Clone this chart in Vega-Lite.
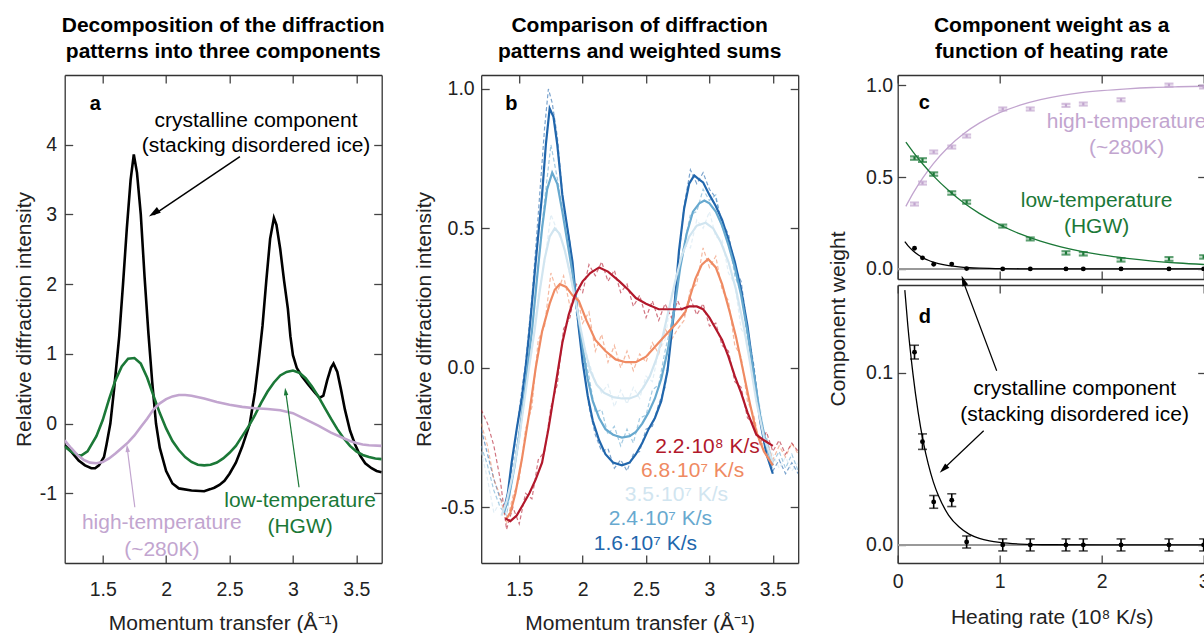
{
 "$schema": "https://vega.github.io/schema/vega-lite/v6.json",
 "padding": {"left": 12.7, "top": 15, "right": 0, "bottom": 0},
 "background": "white",
 "bounds": "flush",
 "spacing": 99.5,
 "resolve": {"scale": {"color": "independent"}},
 "config": {
  "font": "Liberation Sans",
  "view": {"stroke": null},
  "title": {"font": "Liberation Sans", "fontSize": 21, "fontWeight": "bold", "lineHeight": 26, "offset": 12, "color": "#000", "anchor": "middle", "frame": "group"},
  "axis": {"domainColor": "#333", "domainWidth": 1.3, "tickColor": "#444", "tickWidth": 1.3, "tickSize": -8, "labelFlush": false, "labelOverlap": false, "labelFont": "Liberation Sans", "labelFontSize": 19.5, "labelColor": "#222", "titleFont": "Liberation Sans", "titleFontSize": 21, "titleFontWeight": "normal", "titleColor": "#222", "grid": false},
  "text": {"font": "Liberation Sans"}
 },
 "datasets": {
  "panelA": [
   {"comp":"crystalline","q":1.20,"I":-0.31},{"comp":"crystalline","q":1.25,"I":-0.40},{"comp":"crystalline","q":1.31,"I":-0.53},{"comp":"crystalline","q":1.36,"I":-0.60},{"comp":"crystalline","q":1.41,"I":-0.64},{"comp":"crystalline","q":1.44,"I":-0.64},{"comp":"crystalline","q":1.47,"I":-0.60},{"comp":"crystalline","q":1.51,"I":-0.48},{"comp":"crystalline","q":1.53,"I":-0.30},{"comp":"crystalline","q":1.56,"I":0.00},{"comp":"crystalline","q":1.59,"I":0.50},{"comp":"crystalline","q":1.63,"I":1.25},{"comp":"crystalline","q":1.66,"I":2.00},{"comp":"crystalline","q":1.69,"I":2.80},{"comp":"crystalline","q":1.72,"I":3.50},{"comp":"crystalline","q":1.745,"I":3.86},{"comp":"crystalline","q":1.77,"I":3.60},{"comp":"crystalline","q":1.80,"I":3.00},{"comp":"crystalline","q":1.83,"I":2.10},{"comp":"crystalline","q":1.86,"I":1.30},{"comp":"crystalline","q":1.89,"I":0.60},{"comp":"crystalline","q":1.92,"I":0.00},{"comp":"crystalline","q":1.95,"I":-0.35},{"comp":"crystalline","q":2.00,"I":-0.68},{"comp":"crystalline","q":2.05,"I":-0.86},{"comp":"crystalline","q":2.10,"I":-0.93},{"comp":"crystalline","q":2.20,"I":-0.96},{"comp":"crystalline","q":2.30,"I":-0.97},{"comp":"crystalline","q":2.35,"I":-0.94},{"comp":"crystalline","q":2.38,"I":-0.92},{"comp":"crystalline","q":2.42,"I":-0.88},{"comp":"crystalline","q":2.46,"I":-0.82},{"comp":"crystalline","q":2.50,"I":-0.72},{"comp":"crystalline","q":2.55,"I":-0.56},{"comp":"crystalline","q":2.60,"I":-0.33},{"comp":"crystalline","q":2.66,"I":0.00},{"comp":"crystalline","q":2.70,"I":0.45},{"comp":"crystalline","q":2.73,"I":0.90},{"comp":"crystalline","q":2.76,"I":1.40},{"comp":"crystalline","q":2.79,"I":2.05},{"comp":"crystalline","q":2.82,"I":2.65},{"comp":"crystalline","q":2.85,"I":2.95},{"comp":"crystalline","q":2.87,"I":2.85},{"comp":"crystalline","q":2.90,"I":2.50},{"comp":"crystalline","q":2.93,"I":2.05},{"comp":"crystalline","q":2.96,"I":1.65},{"comp":"crystalline","q":2.98,"I":1.25},{"comp":"crystalline","q":3.00,"I":0.98},{"comp":"crystalline","q":3.03,"I":0.80},{"comp":"crystalline","q":3.07,"I":0.68},{"comp":"crystalline","q":3.12,"I":0.56},{"comp":"crystalline","q":3.17,"I":0.45},{"comp":"crystalline","q":3.21,"I":0.37},{"comp":"crystalline","q":3.24,"I":0.40},{"comp":"crystalline","q":3.27,"I":0.62},{"comp":"crystalline","q":3.30,"I":0.80},{"comp":"crystalline","q":3.32,"I":0.86},{"comp":"crystalline","q":3.35,"I":0.74},{"comp":"crystalline","q":3.38,"I":0.48},{"comp":"crystalline","q":3.41,"I":0.20},{"comp":"crystalline","q":3.45,"I":-0.10},{"comp":"crystalline","q":3.49,"I":-0.30},{"comp":"crystalline","q":3.53,"I":-0.46},{"comp":"crystalline","q":3.57,"I":-0.57},{"comp":"crystalline","q":3.62,"I":-0.64},{"comp":"crystalline","q":3.66,"I":-0.68},{"comp":"crystalline","q":3.70,"I":-0.70},
   {"comp":"low","q":1.20,"I":-0.33},{"comp":"low","q":1.25,"I":-0.40},{"comp":"low","q":1.30,"I":-0.45},{"comp":"low","q":1.33,"I":-0.46},{"comp":"low","q":1.38,"I":-0.40},{"comp":"low","q":1.45,"I":-0.18},{"comp":"low","q":1.50,"I":0.05},{"comp":"low","q":1.55,"I":0.35},{"comp":"low","q":1.60,"I":0.62},{"comp":"low","q":1.65,"I":0.82},{"comp":"low","q":1.70,"I":0.93},{"comp":"low","q":1.75,"I":0.94},{"comp":"low","q":1.80,"I":0.86},{"comp":"low","q":1.85,"I":0.66},{"comp":"low","q":1.90,"I":0.40},{"comp":"low","q":1.95,"I":0.15},{"comp":"low","q":2.00,"I":-0.07},{"comp":"low","q":2.05,"I":-0.25},{"comp":"low","q":2.10,"I":-0.38},{"comp":"low","q":2.15,"I":-0.48},{"comp":"low","q":2.20,"I":-0.55},{"comp":"low","q":2.25,"I":-0.59},{"comp":"low","q":2.30,"I":-0.60},{"comp":"low","q":2.35,"I":-0.59},{"comp":"low","q":2.40,"I":-0.56},{"comp":"low","q":2.45,"I":-0.50},{"comp":"low","q":2.50,"I":-0.42},{"comp":"low","q":2.55,"I":-0.32},{"comp":"low","q":2.60,"I":-0.18},{"comp":"low","q":2.65,"I":-0.04},{"comp":"low","q":2.70,"I":0.12},{"comp":"low","q":2.75,"I":0.30},{"comp":"low","q":2.80,"I":0.46},{"comp":"low","q":2.85,"I":0.59},{"comp":"low","q":2.90,"I":0.69},{"comp":"low","q":2.95,"I":0.74},{"comp":"low","q":3.00,"I":0.76},{"comp":"low","q":3.05,"I":0.73},{"comp":"low","q":3.10,"I":0.65},{"comp":"low","q":3.15,"I":0.53},{"comp":"low","q":3.20,"I":0.39},{"comp":"low","q":3.25,"I":0.23},{"comp":"low","q":3.30,"I":0.07},{"comp":"low","q":3.35,"I":-0.08},{"comp":"low","q":3.40,"I":-0.21},{"comp":"low","q":3.45,"I":-0.32},{"comp":"low","q":3.50,"I":-0.40},{"comp":"low","q":3.55,"I":-0.45},{"comp":"low","q":3.60,"I":-0.48},{"comp":"low","q":3.65,"I":-0.50},{"comp":"low","q":3.70,"I":-0.51},
   {"comp":"high","q":1.20,"I":-0.24},{"comp":"high","q":1.25,"I":-0.35},{"comp":"high","q":1.30,"I":-0.45},{"comp":"high","q":1.35,"I":-0.52},{"comp":"high","q":1.40,"I":-0.56},{"comp":"high","q":1.45,"I":-0.57},{"comp":"high","q":1.50,"I":-0.55},{"comp":"high","q":1.55,"I":-0.50},{"comp":"high","q":1.60,"I":-0.43},{"comp":"high","q":1.65,"I":-0.35},{"comp":"high","q":1.70,"I":-0.27},{"comp":"high","q":1.75,"I":-0.17},{"comp":"high","q":1.80,"I":-0.05},{"comp":"high","q":1.85,"I":0.07},{"comp":"high","q":1.90,"I":0.20},{"comp":"high","q":1.95,"I":0.29},{"comp":"high","q":2.00,"I":0.35},{"comp":"high","q":2.05,"I":0.39},{"comp":"high","q":2.10,"I":0.41},{"comp":"high","q":2.15,"I":0.41},{"comp":"high","q":2.20,"I":0.40},{"comp":"high","q":2.30,"I":0.36},{"comp":"high","q":2.40,"I":0.31},{"comp":"high","q":2.50,"I":0.27},{"comp":"high","q":2.60,"I":0.24},{"comp":"high","q":2.70,"I":0.22},{"comp":"high","q":2.80,"I":0.21},{"comp":"high","q":2.90,"I":0.19},{"comp":"high","q":3.00,"I":0.15},{"comp":"high","q":3.10,"I":0.06},{"comp":"high","q":3.20,"I":-0.03},{"comp":"high","q":3.30,"I":-0.13},{"comp":"high","q":3.40,"I":-0.21},{"comp":"high","q":3.45,"I":-0.25},{"comp":"high","q":3.50,"I":-0.28},{"comp":"high","q":3.55,"I":-0.30},{"comp":"high","q":3.60,"I":-0.31},{"comp":"high","q":3.70,"I":-0.32}
  ],
  "panelBsolid": [
   {"rate":"1.6e7","q":1.38,"I":-0.51},{"rate":"1.6e7","q":1.41,"I":-0.45},{"rate":"1.6e7","q":1.44,"I":-0.34},{"rate":"1.6e7","q":1.48,"I":-0.22},{"rate":"1.6e7","q":1.52,"I":-0.11},{"rate":"1.6e7","q":1.55,"I":0.00},{"rate":"1.6e7","q":1.58,"I":0.13},{"rate":"1.6e7","q":1.63,"I":0.38},{"rate":"1.6e7","q":1.68,"I":0.62},{"rate":"1.6e7","q":1.71,"I":0.80},{"rate":"1.6e7","q":1.74,"I":0.93},{"rate":"1.6e7","q":1.77,"I":0.90},{"rate":"1.6e7","q":1.80,"I":0.80},{"rate":"1.6e7","q":1.84,"I":0.62},{"rate":"1.6e7","q":1.88,"I":0.50},{"rate":"1.6e7","q":1.92,"I":0.38},{"rate":"1.6e7","q":1.97,"I":0.14},{"rate":"1.6e7","q":2.00,"I":0.02},{"rate":"1.6e7","q":2.04,"I":-0.10},{"rate":"1.6e7","q":2.08,"I":-0.19},{"rate":"1.6e7","q":2.13,"I":-0.26},{"rate":"1.6e7","q":2.18,"I":-0.31},{"rate":"1.6e7","q":2.24,"I":-0.34},{"rate":"1.6e7","q":2.31,"I":-0.35},{"rate":"1.6e7","q":2.37,"I":-0.34},{"rate":"1.6e7","q":2.42,"I":-0.31},{"rate":"1.6e7","q":2.47,"I":-0.27},{"rate":"1.6e7","q":2.52,"I":-0.22},{"rate":"1.6e7","q":2.57,"I":-0.18},{"rate":"1.6e7","q":2.62,"I":-0.12},{"rate":"1.6e7","q":2.67,"I":-0.01},{"rate":"1.6e7","q":2.72,"I":0.20},{"rate":"1.6e7","q":2.76,"I":0.42},{"rate":"1.6e7","q":2.80,"I":0.57},{"rate":"1.6e7","q":2.84,"I":0.66},{"rate":"1.6e7","q":2.88,"I":0.69},{"rate":"1.6e7","q":2.92,"I":0.675},{"rate":"1.6e7","q":2.95,"I":0.665},{"rate":"1.6e7","q":3.00,"I":0.62},{"rate":"1.6e7","q":3.05,"I":0.58},{"rate":"1.6e7","q":3.10,"I":0.53},{"rate":"1.6e7","q":3.15,"I":0.46},{"rate":"1.6e7","q":3.20,"I":0.38},{"rate":"1.6e7","q":3.25,"I":0.28},{"rate":"1.6e7","q":3.30,"I":0.15},{"rate":"1.6e7","q":3.35,"I":-0.02},{"rate":"1.6e7","q":3.40,"I":-0.19},{"rate":"1.6e7","q":3.45,"I":-0.31},{"rate":"1.6e7","q":3.50,"I":-0.38},
   {"rate":"2.4e7","q":1.38,"I":-0.52},{"rate":"2.4e7","q":1.42,"I":-0.46},{"rate":"2.4e7","q":1.46,"I":-0.36},{"rate":"2.4e7","q":1.50,"I":-0.24},{"rate":"2.4e7","q":1.54,"I":-0.10},{"rate":"2.4e7","q":1.57,"I":0.02},{"rate":"2.4e7","q":1.60,"I":0.13},{"rate":"2.4e7","q":1.64,"I":0.32},{"rate":"2.4e7","q":1.68,"I":0.50},{"rate":"2.4e7","q":1.72,"I":0.64},{"rate":"2.4e7","q":1.76,"I":0.70},{"rate":"2.4e7","q":1.80,"I":0.66},{"rate":"2.4e7","q":1.84,"I":0.56},{"rate":"2.4e7","q":1.88,"I":0.45},{"rate":"2.4e7","q":1.92,"I":0.34},{"rate":"2.4e7","q":1.96,"I":0.20},{"rate":"2.4e7","q":2.00,"I":0.07},{"rate":"2.4e7","q":2.04,"I":-0.04},{"rate":"2.4e7","q":2.08,"I":-0.12},{"rate":"2.4e7","q":2.13,"I":-0.18},{"rate":"2.4e7","q":2.18,"I":-0.22},{"rate":"2.4e7","q":2.24,"I":-0.24},{"rate":"2.4e7","q":2.31,"I":-0.25},{"rate":"2.4e7","q":2.37,"I":-0.245},{"rate":"2.4e7","q":2.42,"I":-0.23},{"rate":"2.4e7","q":2.47,"I":-0.20},{"rate":"2.4e7","q":2.52,"I":-0.16},{"rate":"2.4e7","q":2.57,"I":-0.11},{"rate":"2.4e7","q":2.62,"I":-0.04},{"rate":"2.4e7","q":2.67,"I":0.06},{"rate":"2.4e7","q":2.72,"I":0.20},{"rate":"2.4e7","q":2.77,"I":0.36},{"rate":"2.4e7","q":2.82,"I":0.48},{"rate":"2.4e7","q":2.87,"I":0.56},{"rate":"2.4e7","q":2.92,"I":0.59},{"rate":"2.4e7","q":2.96,"I":0.60},{"rate":"2.4e7","q":3.00,"I":0.59},{"rate":"2.4e7","q":3.05,"I":0.56},{"rate":"2.4e7","q":3.10,"I":0.51},{"rate":"2.4e7","q":3.15,"I":0.44},{"rate":"2.4e7","q":3.20,"I":0.36},{"rate":"2.4e7","q":3.25,"I":0.26},{"rate":"2.4e7","q":3.30,"I":0.13},{"rate":"2.4e7","q":3.35,"I":-0.02},{"rate":"2.4e7","q":3.40,"I":-0.17},{"rate":"2.4e7","q":3.45,"I":-0.28},{"rate":"2.4e7","q":3.50,"I":-0.35},
   {"rate":"3.5e7","q":1.36,"I":-0.53},{"rate":"3.5e7","q":1.40,"I":-0.48},{"rate":"3.5e7","q":1.45,"I":-0.38},{"rate":"3.5e7","q":1.50,"I":-0.25},{"rate":"3.5e7","q":1.54,"I":-0.12},{"rate":"3.5e7","q":1.58,"I":0.01},{"rate":"3.5e7","q":1.62,"I":0.13},{"rate":"3.5e7","q":1.66,"I":0.27},{"rate":"3.5e7","q":1.70,"I":0.39},{"rate":"3.5e7","q":1.74,"I":0.47},{"rate":"3.5e7","q":1.78,"I":0.50},{"rate":"3.5e7","q":1.82,"I":0.48},{"rate":"3.5e7","q":1.86,"I":0.42},{"rate":"3.5e7","q":1.90,"I":0.34},{"rate":"3.5e7","q":1.94,"I":0.25},{"rate":"3.5e7","q":1.98,"I":0.15},{"rate":"3.5e7","q":2.02,"I":0.06},{"rate":"3.5e7","q":2.06,"I":-0.01},{"rate":"3.5e7","q":2.11,"I":-0.06},{"rate":"3.5e7","q":2.17,"I":-0.09},{"rate":"3.5e7","q":2.24,"I":-0.105},{"rate":"3.5e7","q":2.31,"I":-0.11},{"rate":"3.5e7","q":2.37,"I":-0.11},{"rate":"3.5e7","q":2.43,"I":-0.10},{"rate":"3.5e7","q":2.48,"I":-0.07},{"rate":"3.5e7","q":2.53,"I":-0.03},{"rate":"3.5e7","q":2.58,"I":0.03},{"rate":"3.5e7","q":2.63,"I":0.11},{"rate":"3.5e7","q":2.68,"I":0.21},{"rate":"3.5e7","q":2.73,"I":0.31},{"rate":"3.5e7","q":2.78,"I":0.40},{"rate":"3.5e7","q":2.84,"I":0.47},{"rate":"3.5e7","q":2.90,"I":0.51},{"rate":"3.5e7","q":2.97,"I":0.52},{"rate":"3.5e7","q":3.03,"I":0.50},{"rate":"3.5e7","q":3.09,"I":0.45},{"rate":"3.5e7","q":3.15,"I":0.38},{"rate":"3.5e7","q":3.21,"I":0.28},{"rate":"3.5e7","q":3.27,"I":0.15},{"rate":"3.5e7","q":3.32,"I":0.02},{"rate":"3.5e7","q":3.37,"I":-0.12},{"rate":"3.5e7","q":3.43,"I":-0.25},{"rate":"3.5e7","q":3.50,"I":-0.34},
   {"rate":"6.8e7","q":1.40,"I":-0.54},{"rate":"6.8e7","q":1.43,"I":-0.52},{"rate":"6.8e7","q":1.47,"I":-0.45},{"rate":"6.8e7","q":1.52,"I":-0.33},{"rate":"6.8e7","q":1.58,"I":-0.16},{"rate":"6.8e7","q":1.63,"I":0.00},{"rate":"6.8e7","q":1.68,"I":0.13},{"rate":"6.8e7","q":1.74,"I":0.23},{"rate":"6.8e7","q":1.78,"I":0.28},{"rate":"6.8e7","q":1.82,"I":0.30},{"rate":"6.8e7","q":1.87,"I":0.29},{"rate":"6.8e7","q":1.92,"I":0.26},{"rate":"6.8e7","q":1.97,"I":0.24},{"rate":"6.8e7","q":2.03,"I":0.17},{"rate":"6.8e7","q":2.10,"I":0.10},{"rate":"6.8e7","q":2.18,"I":0.06},{"rate":"6.8e7","q":2.26,"I":0.03},{"rate":"6.8e7","q":2.34,"I":0.02},{"rate":"6.8e7","q":2.42,"I":0.02},{"rate":"6.8e7","q":2.50,"I":0.04},{"rate":"6.8e7","q":2.58,"I":0.08},{"rate":"6.8e7","q":2.66,"I":0.12},{"rate":"6.8e7","q":2.74,"I":0.16},{"rate":"6.8e7","q":2.81,"I":0.20},{"rate":"6.8e7","q":2.85,"I":0.26},{"rate":"6.8e7","q":2.89,"I":0.32},{"rate":"6.8e7","q":2.94,"I":0.37},{"rate":"6.8e7","q":2.99,"I":0.39},{"rate":"6.8e7","q":3.05,"I":0.36},{"rate":"6.8e7","q":3.10,"I":0.30},{"rate":"6.8e7","q":3.16,"I":0.20},{"rate":"6.8e7","q":3.21,"I":0.11},{"rate":"6.8e7","q":3.27,"I":-0.02},{"rate":"6.8e7","q":3.32,"I":-0.13},{"rate":"6.8e7","q":3.37,"I":-0.23},{"rate":"6.8e7","q":3.43,"I":-0.30},{"rate":"6.8e7","q":3.50,"I":-0.35},
   {"rate":"2.2e8","q":1.39,"I":-0.54},{"rate":"2.2e8","q":1.43,"I":-0.55},{"rate":"2.2e8","q":1.48,"I":-0.53},{"rate":"2.2e8","q":1.53,"I":-0.49},{"rate":"2.2e8","q":1.58,"I":-0.45},{"rate":"2.2e8","q":1.63,"I":-0.40},{"rate":"2.2e8","q":1.68,"I":-0.34},{"rate":"2.2e8","q":1.73,"I":-0.22},{"rate":"2.2e8","q":1.78,"I":-0.08},{"rate":"2.2e8","q":1.84,"I":0.09},{"rate":"2.2e8","q":1.89,"I":0.19},{"rate":"2.2e8","q":1.94,"I":0.26},{"rate":"2.2e8","q":2.00,"I":0.31},{"rate":"2.2e8","q":2.06,"I":0.34},{"rate":"2.2e8","q":2.13,"I":0.36},{"rate":"2.2e8","q":2.20,"I":0.345},{"rate":"2.2e8","q":2.29,"I":0.31},{"rate":"2.2e8","q":2.36,"I":0.28},{"rate":"2.2e8","q":2.42,"I":0.25},{"rate":"2.2e8","q":2.50,"I":0.23},{"rate":"2.2e8","q":2.60,"I":0.21},{"rate":"2.2e8","q":2.70,"I":0.21},{"rate":"2.2e8","q":2.78,"I":0.21},{"rate":"2.2e8","q":2.84,"I":0.22},{"rate":"2.2e8","q":2.90,"I":0.22},{"rate":"2.2e8","q":2.95,"I":0.21},{"rate":"2.2e8","q":3.00,"I":0.18},{"rate":"2.2e8","q":3.05,"I":0.14},{"rate":"2.2e8","q":3.10,"I":0.10},{"rate":"2.2e8","q":3.15,"I":0.04},{"rate":"2.2e8","q":3.20,"I":-0.03},{"rate":"2.2e8","q":3.25,"I":-0.09},{"rate":"2.2e8","q":3.30,"I":-0.16},{"rate":"2.2e8","q":3.37,"I":-0.24},{"rate":"2.2e8","q":3.43,"I":-0.26},{"rate":"2.2e8","q":3.50,"I":-0.28}
  ],
  "panelBdashed": [
   {"rate":"1.6e7","q":1.20,"I":-0.22},{"rate":"1.6e7","q":1.25,"I":-0.31},{"rate":"1.6e7","q":1.30,"I":-0.40},{"rate":"1.6e7","q":1.35,"I":-0.47},{"rate":"1.6e7","q":1.40,"I":-0.50},{"rate":"1.6e7","q":1.45,"I":-0.33},{"rate":"1.6e7","q":1.50,"I":-0.15},{"rate":"1.6e7","q":1.55,"I":0.02},{"rate":"1.6e7","q":1.60,"I":0.25},{"rate":"1.6e7","q":1.65,"I":0.55},{"rate":"1.6e7","q":1.70,"I":0.86},{"rate":"1.6e7","q":1.73,"I":1.00},{"rate":"1.6e7","q":1.76,"I":0.95},{"rate":"1.6e7","q":1.80,"I":0.83},{"rate":"1.6e7","q":1.85,"I":0.58},{"rate":"1.6e7","q":1.90,"I":0.45},{"rate":"1.6e7","q":1.95,"I":0.20},{"rate":"1.6e7","q":2.00,"I":0.04},{"rate":"1.6e7","q":2.05,"I":-0.14},{"rate":"1.6e7","q":2.10,"I":-0.24},{"rate":"1.6e7","q":2.15,"I":-0.30},{"rate":"1.6e7","q":2.20,"I":-0.29},{"rate":"1.6e7","q":2.25,"I":-0.36},{"rate":"1.6e7","q":2.30,"I":-0.33},{"rate":"1.6e7","q":2.35,"I":-0.37},{"rate":"1.6e7","q":2.40,"I":-0.31},{"rate":"1.6e7","q":2.45,"I":-0.30},{"rate":"1.6e7","q":2.50,"I":-0.22},{"rate":"1.6e7","q":2.55,"I":-0.21},{"rate":"1.6e7","q":2.60,"I":-0.13},{"rate":"1.6e7","q":2.65,"I":-0.07},{"rate":"1.6e7","q":2.70,"I":0.12},{"rate":"1.6e7","q":2.75,"I":0.36},{"rate":"1.6e7","q":2.80,"I":0.58},{"rate":"1.6e7","q":2.85,"I":0.71},{"rate":"1.6e7","q":2.90,"I":0.66},{"rate":"1.6e7","q":2.95,"I":0.70},{"rate":"1.6e7","q":3.00,"I":0.64},{"rate":"1.6e7","q":3.05,"I":0.61},{"rate":"1.6e7","q":3.10,"I":0.52},{"rate":"1.6e7","q":3.15,"I":0.48},{"rate":"1.6e7","q":3.20,"I":0.36},{"rate":"1.6e7","q":3.25,"I":0.31},{"rate":"1.6e7","q":3.30,"I":0.14},{"rate":"1.6e7","q":3.35,"I":0.01},{"rate":"1.6e7","q":3.40,"I":-0.18},{"rate":"1.6e7","q":3.45,"I":-0.28},{"rate":"1.6e7","q":3.50,"I":-0.37},{"rate":"1.6e7","q":3.55,"I":-0.33},{"rate":"1.6e7","q":3.60,"I":-0.38},{"rate":"1.6e7","q":3.65,"I":-0.34},{"rate":"1.6e7","q":3.70,"I":-0.38},
   {"rate":"2.4e7","q":1.20,"I":-0.28},{"rate":"2.4e7","q":1.25,"I":-0.35},{"rate":"2.4e7","q":1.30,"I":-0.44},{"rate":"2.4e7","q":1.35,"I":-0.50},{"rate":"2.4e7","q":1.40,"I":-0.53},{"rate":"2.4e7","q":1.45,"I":-0.38},{"rate":"2.4e7","q":1.50,"I":-0.22},{"rate":"2.4e7","q":1.55,"I":-0.06},{"rate":"2.4e7","q":1.60,"I":0.14},{"rate":"2.4e7","q":1.65,"I":0.37},{"rate":"2.4e7","q":1.70,"I":0.60},{"rate":"2.4e7","q":1.75,"I":0.80},{"rate":"2.4e7","q":1.80,"I":0.68},{"rate":"2.4e7","q":1.85,"I":0.55},{"rate":"2.4e7","q":1.90,"I":0.40},{"rate":"2.4e7","q":1.95,"I":0.23},{"rate":"2.4e7","q":2.00,"I":0.08},{"rate":"2.4e7","q":2.05,"I":-0.03},{"rate":"2.4e7","q":2.10,"I":-0.16},{"rate":"2.4e7","q":2.15,"I":-0.15},{"rate":"2.4e7","q":2.20,"I":-0.24},{"rate":"2.4e7","q":2.25,"I":-0.21},{"rate":"2.4e7","q":2.30,"I":-0.28},{"rate":"2.4e7","q":2.35,"I":-0.22},{"rate":"2.4e7","q":2.40,"I":-0.27},{"rate":"2.4e7","q":2.45,"I":-0.18},{"rate":"2.4e7","q":2.50,"I":-0.17},{"rate":"2.4e7","q":2.55,"I":-0.08},{"rate":"2.4e7","q":2.60,"I":-0.06},{"rate":"2.4e7","q":2.65,"I":0.06},{"rate":"2.4e7","q":2.70,"I":0.16},{"rate":"2.4e7","q":2.75,"I":0.33},{"rate":"2.4e7","q":2.80,"I":0.44},{"rate":"2.4e7","q":2.85,"I":0.55},{"rate":"2.4e7","q":2.90,"I":0.56},{"rate":"2.4e7","q":2.95,"I":0.64},{"rate":"2.4e7","q":3.00,"I":0.60},{"rate":"2.4e7","q":3.05,"I":0.62},{"rate":"2.4e7","q":3.10,"I":0.50},{"rate":"2.4e7","q":3.15,"I":0.47},{"rate":"2.4e7","q":3.20,"I":0.33},{"rate":"2.4e7","q":3.25,"I":0.27},{"rate":"2.4e7","q":3.30,"I":0.10},{"rate":"2.4e7","q":3.35,"I":0.00},{"rate":"2.4e7","q":3.40,"I":-0.19},{"rate":"2.4e7","q":3.45,"I":-0.25},{"rate":"2.4e7","q":3.50,"I":-0.34},{"rate":"2.4e7","q":3.55,"I":-0.30},{"rate":"2.4e7","q":3.60,"I":-0.36},{"rate":"2.4e7","q":3.65,"I":-0.31},{"rate":"2.4e7","q":3.70,"I":-0.37},
   {"rate":"3.5e7","q":1.20,"I":-0.30},{"rate":"3.5e7","q":1.25,"I":-0.40},{"rate":"3.5e7","q":1.30,"I":-0.52},{"rate":"3.5e7","q":1.35,"I":-0.48},{"rate":"3.5e7","q":1.40,"I":-0.53},{"rate":"3.5e7","q":1.45,"I":-0.40},{"rate":"3.5e7","q":1.50,"I":-0.27},{"rate":"3.5e7","q":1.55,"I":-0.07},{"rate":"3.5e7","q":1.60,"I":0.06},{"rate":"3.5e7","q":1.65,"I":0.26},{"rate":"3.5e7","q":1.70,"I":0.38},{"rate":"3.5e7","q":1.75,"I":0.55},{"rate":"3.5e7","q":1.80,"I":0.49},{"rate":"3.5e7","q":1.85,"I":0.44},{"rate":"3.5e7","q":1.90,"I":0.33},{"rate":"3.5e7","q":1.95,"I":0.22},{"rate":"3.5e7","q":2.00,"I":0.10},{"rate":"3.5e7","q":2.05,"I":0.02},{"rate":"3.5e7","q":2.10,"I":-0.05},{"rate":"3.5e7","q":2.15,"I":-0.09},{"rate":"3.5e7","q":2.20,"I":-0.06},{"rate":"3.5e7","q":2.25,"I":-0.14},{"rate":"3.5e7","q":2.30,"I":-0.08},{"rate":"3.5e7","q":2.35,"I":-0.13},{"rate":"3.5e7","q":2.40,"I":-0.07},{"rate":"3.5e7","q":2.45,"I":-0.11},{"rate":"3.5e7","q":2.50,"I":-0.03},{"rate":"3.5e7","q":2.55,"I":-0.05},{"rate":"3.5e7","q":2.60,"I":0.06},{"rate":"3.5e7","q":2.65,"I":0.10},{"rate":"3.5e7","q":2.70,"I":0.26},{"rate":"3.5e7","q":2.75,"I":0.33},{"rate":"3.5e7","q":2.80,"I":0.44},{"rate":"3.5e7","q":2.85,"I":0.43},{"rate":"3.5e7","q":2.90,"I":0.53},{"rate":"3.5e7","q":2.95,"I":0.50},{"rate":"3.5e7","q":3.00,"I":0.56},{"rate":"3.5e7","q":3.05,"I":0.47},{"rate":"3.5e7","q":3.10,"I":0.46},{"rate":"3.5e7","q":3.15,"I":0.34},{"rate":"3.5e7","q":3.20,"I":0.30},{"rate":"3.5e7","q":3.25,"I":0.14},{"rate":"3.5e7","q":3.30,"I":0.10},{"rate":"3.5e7","q":3.35,"I":-0.06},{"rate":"3.5e7","q":3.40,"I":-0.14},{"rate":"3.5e7","q":3.45,"I":-0.28},{"rate":"3.5e7","q":3.50,"I":-0.31},{"rate":"3.5e7","q":3.55,"I":-0.36},{"rate":"3.5e7","q":3.60,"I":-0.32},{"rate":"3.5e7","q":3.65,"I":-0.37},{"rate":"3.5e7","q":3.70,"I":-0.34},
   {"rate":"6.8e7","q":1.20,"I":-0.20},{"rate":"6.8e7","q":1.25,"I":-0.28},{"rate":"6.8e7","q":1.30,"I":-0.40},{"rate":"6.8e7","q":1.35,"I":-0.46},{"rate":"6.8e7","q":1.40,"I":-0.56},{"rate":"6.8e7","q":1.45,"I":-0.46},{"rate":"6.8e7","q":1.50,"I":-0.40},{"rate":"6.8e7","q":1.55,"I":-0.22},{"rate":"6.8e7","q":1.60,"I":-0.14},{"rate":"6.8e7","q":1.65,"I":0.10},{"rate":"6.8e7","q":1.70,"I":0.15},{"rate":"6.8e7","q":1.75,"I":0.34},{"rate":"6.8e7","q":1.80,"I":0.27},{"rate":"6.8e7","q":1.85,"I":0.33},{"rate":"6.8e7","q":1.90,"I":0.22},{"rate":"6.8e7","q":1.95,"I":0.28},{"rate":"6.8e7","q":2.00,"I":0.16},{"rate":"6.8e7","q":2.05,"I":0.20},{"rate":"6.8e7","q":2.10,"I":0.06},{"rate":"6.8e7","q":2.15,"I":0.12},{"rate":"6.8e7","q":2.20,"I":0.02},{"rate":"6.8e7","q":2.25,"I":0.08},{"rate":"6.8e7","q":2.30,"I":0.00},{"rate":"6.8e7","q":2.35,"I":0.06},{"rate":"6.8e7","q":2.40,"I":-0.01},{"rate":"6.8e7","q":2.45,"I":0.05},{"rate":"6.8e7","q":2.50,"I":0.02},{"rate":"6.8e7","q":2.55,"I":0.09},{"rate":"6.8e7","q":2.60,"I":0.05},{"rate":"6.8e7","q":2.65,"I":0.14},{"rate":"6.8e7","q":2.70,"I":0.10},{"rate":"6.8e7","q":2.75,"I":0.14},{"rate":"6.8e7","q":2.80,"I":0.17},{"rate":"6.8e7","q":2.85,"I":0.28},{"rate":"6.8e7","q":2.90,"I":0.30},{"rate":"6.8e7","q":2.95,"I":0.43},{"rate":"6.8e7","q":3.00,"I":0.36},{"rate":"6.8e7","q":3.05,"I":0.40},{"rate":"6.8e7","q":3.10,"I":0.28},{"rate":"6.8e7","q":3.15,"I":0.24},{"rate":"6.8e7","q":3.20,"I":0.08},{"rate":"6.8e7","q":3.25,"I":0.04},{"rate":"6.8e7","q":3.30,"I":-0.12},{"rate":"6.8e7","q":3.35,"I":-0.17},{"rate":"6.8e7","q":3.40,"I":-0.28},{"rate":"6.8e7","q":3.45,"I":-0.26},{"rate":"6.8e7","q":3.50,"I":-0.33},{"rate":"6.8e7","q":3.55,"I":-0.28},{"rate":"6.8e7","q":3.60,"I":-0.32},{"rate":"6.8e7","q":3.65,"I":-0.27},{"rate":"6.8e7","q":3.70,"I":-0.31},
   {"rate":"2.2e8","q":1.20,"I":-0.15},{"rate":"2.2e8","q":1.25,"I":-0.20},{"rate":"2.2e8","q":1.30,"I":-0.28},{"rate":"2.2e8","q":1.35,"I":-0.40},{"rate":"2.2e8","q":1.40,"I":-0.58},{"rate":"2.2e8","q":1.45,"I":-0.50},{"rate":"2.2e8","q":1.50,"I":-0.56},{"rate":"2.2e8","q":1.55,"I":-0.45},{"rate":"2.2e8","q":1.60,"I":-0.47},{"rate":"2.2e8","q":1.65,"I":-0.33},{"rate":"2.2e8","q":1.70,"I":-0.30},{"rate":"2.2e8","q":1.75,"I":-0.14},{"rate":"2.2e8","q":1.80,"I":-0.06},{"rate":"2.2e8","q":1.85,"I":0.14},{"rate":"2.2e8","q":1.90,"I":0.18},{"rate":"2.2e8","q":1.95,"I":0.30},{"rate":"2.2e8","q":2.00,"I":0.27},{"rate":"2.2e8","q":2.05,"I":0.37},{"rate":"2.2e8","q":2.10,"I":0.33},{"rate":"2.2e8","q":2.15,"I":0.38},{"rate":"2.2e8","q":2.20,"I":0.31},{"rate":"2.2e8","q":2.25,"I":0.35},{"rate":"2.2e8","q":2.30,"I":0.27},{"rate":"2.2e8","q":2.35,"I":0.30},{"rate":"2.2e8","q":2.40,"I":0.22},{"rate":"2.2e8","q":2.45,"I":0.26},{"rate":"2.2e8","q":2.50,"I":0.18},{"rate":"2.2e8","q":2.55,"I":0.24},{"rate":"2.2e8","q":2.60,"I":0.17},{"rate":"2.2e8","q":2.65,"I":0.23},{"rate":"2.2e8","q":2.70,"I":0.18},{"rate":"2.2e8","q":2.75,"I":0.24},{"rate":"2.2e8","q":2.80,"I":0.19},{"rate":"2.2e8","q":2.85,"I":0.25},{"rate":"2.2e8","q":2.90,"I":0.19},{"rate":"2.2e8","q":2.95,"I":0.23},{"rate":"2.2e8","q":3.00,"I":0.15},{"rate":"2.2e8","q":3.05,"I":0.16},{"rate":"2.2e8","q":3.10,"I":0.08},{"rate":"2.2e8","q":3.15,"I":0.06},{"rate":"2.2e8","q":3.20,"I":-0.05},{"rate":"2.2e8","q":3.25,"I":-0.07},{"rate":"2.2e8","q":3.30,"I":-0.18},{"rate":"2.2e8","q":3.35,"I":-0.20},{"rate":"2.2e8","q":3.40,"I":-0.27},{"rate":"2.2e8","q":3.45,"I":-0.23},{"rate":"2.2e8","q":3.50,"I":-0.30},{"rate":"2.2e8","q":3.55,"I":-0.26},{"rate":"2.2e8","q":3.60,"I":-0.31},{"rate":"2.2e8","q":3.65,"I":-0.27},{"rate":"2.2e8","q":3.70,"I":-0.30}
  ],
  "weights": [
   {"comp":"high","r":0.165,"w":0.353,"lo":0.345,"hi":0.361},{"comp":"high","r":0.243,"w":0.467,"lo":0.459,"hi":0.475},{"comp":"high","r":0.353,"w":0.636,"lo":0.628,"hi":0.644},{"comp":"high","r":0.53,"w":0.663,"lo":0.655,"hi":0.671},{"comp":"high","r":0.676,"w":0.723,"lo":0.715,"hi":0.731},{"comp":"high","r":1.03,"w":0.87,"lo":0.862,"hi":0.878},{"comp":"high","r":1.30,"w":0.87,"lo":0.862,"hi":0.878},{"comp":"high","r":1.65,"w":0.89,"lo":0.882,"hi":0.898},{"comp":"high","r":1.82,"w":0.897,"lo":0.889,"hi":0.905},{"comp":"high","r":2.19,"w":0.92,"lo":0.912,"hi":0.928},{"comp":"high","r":2.66,"w":1.0,"lo":0.992,"hi":1.008},{"comp":"high","r":3.0,"w":0.99,"lo":0.982,"hi":0.998},
   {"comp":"low","r":0.165,"w":0.603,"lo":0.594,"hi":0.612},{"comp":"low","r":0.243,"w":0.592,"lo":0.582,"hi":0.602},{"comp":"low","r":0.353,"w":0.516,"lo":0.507,"hi":0.525},{"comp":"low","r":0.53,"w":0.413,"lo":0.404,"hi":0.422},{"comp":"low","r":0.676,"w":0.364,"lo":0.355,"hi":0.373},{"comp":"low","r":1.03,"w":0.233,"lo":0.225,"hi":0.241},{"comp":"low","r":1.30,"w":0.163,"lo":0.155,"hi":0.171},{"comp":"low","r":1.65,"w":0.087,"lo":0.078,"hi":0.096},{"comp":"low","r":1.82,"w":0.082,"lo":0.073,"hi":0.091},{"comp":"low","r":2.19,"w":0.049,"lo":0.04,"hi":0.058},{"comp":"low","r":2.66,"w":0.054,"lo":0.044,"hi":0.064},{"comp":"low","r":3.0,"w":0.065,"lo":0.056,"hi":0.074},
   {"comp":"crystalline","r":0.165,"w":0.112,"lo":0.108,"hi":0.116},{"comp":"crystalline","r":0.243,"w":0.060,"lo":0.0555,"hi":0.0645},{"comp":"crystalline","r":0.353,"w":0.025,"lo":0.0213,"hi":0.0287},{"comp":"crystalline","r":0.53,"w":0.026,"lo":0.0223,"hi":0.0297},{"comp":"crystalline","r":0.676,"w":0.0017,"lo":-0.0018,"hi":0.0052},{"comp":"crystalline","r":1.03,"w":0.0,"lo":-0.0035,"hi":0.0035},{"comp":"crystalline","r":1.30,"w":0.0,"lo":-0.0035,"hi":0.0035},{"comp":"crystalline","r":1.65,"w":0.0,"lo":-0.0035,"hi":0.0035},{"comp":"crystalline","r":1.82,"w":0.0,"lo":-0.0035,"hi":0.0035},{"comp":"crystalline","r":2.19,"w":0.0,"lo":-0.0035,"hi":0.0035},{"comp":"crystalline","r":2.66,"w":0.0,"lo":-0.0035,"hi":0.0035},{"comp":"crystalline","r":3.0,"w":0.0,"lo":-0.0035,"hi":0.0035}
  ],
  "fits": [
   {"comp":"high","r":0.08,"w":0.340},{"comp":"high","r":0.15,"w":0.411},{"comp":"high","r":0.25,"w":0.498},{"comp":"high","r":0.35,"w":0.573},{"comp":"high","r":0.5,"w":0.665},{"comp":"high","r":0.65,"w":0.737},{"comp":"high","r":0.8,"w":0.793},{"comp":"high","r":1.0,"w":0.850},{"comp":"high","r":1.2,"w":0.891},{"comp":"high","r":1.4,"w":0.921},{"comp":"high","r":1.6,"w":0.943},{"comp":"high","r":1.8,"w":0.959},{"comp":"high","r":2.0,"w":0.970},{"comp":"high","r":2.25,"w":0.980},{"comp":"high","r":2.5,"w":0.987},{"comp":"high","r":2.75,"w":0.991},{"comp":"high","r":3.02,"w":0.994},
   {"comp":"low","r":0.08,"w":0.690},{"comp":"low","r":0.15,"w":0.637},{"comp":"low","r":0.25,"w":0.568},{"comp":"low","r":0.35,"w":0.506},{"comp":"low","r":0.5,"w":0.426},{"comp":"low","r":0.65,"w":0.358},{"comp":"low","r":0.8,"w":0.302},{"comp":"low","r":1.0,"w":0.240},{"comp":"low","r":1.2,"w":0.190},{"comp":"low","r":1.4,"w":0.151},{"comp":"low","r":1.6,"w":0.120},{"comp":"low","r":1.8,"w":0.0955},{"comp":"low","r":2.0,"w":0.0759},{"comp":"low","r":2.25,"w":0.057},{"comp":"low","r":2.5,"w":0.0427},{"comp":"low","r":2.75,"w":0.0321},{"comp":"low","r":3.02,"w":0.0235},
   {"comp":"crystalline","r":0.07,"w":0.148},{"comp":"crystalline","r":0.1,"w":0.127},{"comp":"crystalline","r":0.15,"w":0.0992},{"comp":"crystalline","r":0.2,"w":0.0773},{"comp":"crystalline","r":0.25,"w":0.0602},{"comp":"crystalline","r":0.3,"w":0.0469},{"comp":"crystalline","r":0.35,"w":0.0365},{"comp":"crystalline","r":0.4,"w":0.0285},{"comp":"crystalline","r":0.5,"w":0.0172},{"comp":"crystalline","r":0.6,"w":0.0105},{"comp":"crystalline","r":0.7,"w":0.0063},{"comp":"crystalline","r":0.8,"w":0.00385},{"comp":"crystalline","r":0.9,"w":0.00234},{"comp":"crystalline","r":1.0,"w":0.00142},{"comp":"crystalline","r":1.2,"w":0.00052},{"comp":"crystalline","r":1.5,"w":0.0001},{"comp":"crystalline","r":2.0,"w":0.0},{"comp":"crystalline","r":3.02,"w":0.0}
  ]
 },
 "hconcat": [
  {
   "width": 317, "height": 488,
   "title": {"text": ["Decomposition of the diffraction", "patterns into three components"]},
   "data": {"values": [{}]},
   "layer": [
    {"mark": {"type": "point", "opacity": 0},
     "encoding": {
      "x": {"datum": 2, "type": "quantitative", "scale": {"domain": [1.2, 3.7], "nice": false, "zero": false}, "axis": {"orient": "top", "labels": false, "title": null, "values": [1.5, 2, 2.5, 3, 3.5]}},
      "y": {"datum": 0, "type": "quantitative", "scale": {"domain": [-2, 5], "nice": false, "zero": false}, "axis": {"orient": "right", "labels": false, "title": null, "values": [-1, 0, 1, 2, 3, 4]}}
     }},
    {"data": {"name": "panelA"},
     "mark": {"type": "line", "strokeWidth": 2.6, "clip": true},
     "encoding": {
      "x": {"field": "q", "type": "quantitative", "scale": {"domain": [1.2, 3.7], "nice": false, "zero": false}, "axis": {"orient": "bottom", "values": [1.5, 2, 2.5, 3, 3.5], "labelExpr": "format(datum.value, '~g')", "labelPadding": 26, "title": "Momentum transfer (Å⁻¹)", "titleY": 66.5, "titleBaseline": "alphabetic"}},
      "y": {"field": "I", "type": "quantitative", "scale": {"domain": [-2, 5], "nice": false, "zero": false}, "axis": {"orient": "left", "values": [-1, 0, 1, 2, 3, 4], "labelExpr": "datum.value < 0 ? '-' + format(-datum.value, '~g') : format(datum.value, '~g')", "labelPadding": 16, "title": "Relative diffraction intensity", "titleX": -34.5, "titleY": 244, "titleBaseline": "alphabetic", "titleAlign": "center", "titleAngle": 270}},
      "color": {"field": "comp", "type": "nominal", "scale": {"domain": ["high", "low", "crystalline"], "range": ["#c2a5cf", "#1b7837", "#000000"]}, "legend": null},
      "order": {"field": "q", "type": "quantitative"}
     }},
    {"mark": {"type": "text", "text": "a", "fontWeight": "bold", "fontSize": 20, "align": "left", "baseline": "alphabetic", "color": "#000"},
     "encoding": {"x": {"datum": 1.397, "type": "quantitative", "axis": null}, "y": {"datum": 4.5, "type": "quantitative", "axis": null}}},
    {"mark": {"type": "text", "text": ["crystalline component", "(stacking disordered ice)"], "fontSize": 21, "lineHeight": 25.5, "align": "center", "baseline": "alphabetic", "color": "#000"},
     "encoding": {"x": {"datum": 2.709, "type": "quantitative", "axis": null}, "y": {"datum": 4.257, "type": "quantitative", "axis": null}}},
    {"mark": {"type": "rule", "color": "#000", "strokeWidth": 1.5},
     "encoding": {"x": {"datum": 2.582, "type": "quantitative", "axis": null}, "x2": {"datum": 1.90}, "y": {"datum": 3.829, "type": "quantitative", "axis": null}, "y2": {"datum": 2.995}}},
    {"mark": {"type": "point", "shape": "M0,0L0.5,1.7L-0.5,1.7Z", "filled": true, "color": "#000", "opacity": 1, "size": 196, "angle": 236.6, "strokeWidth": 0},
     "encoding": {"x": {"datum": 1.864, "type": "quantitative", "axis": null}, "y": {"datum": 2.971, "type": "quantitative", "axis": null}}},
    {"mark": {"type": "text", "text": ["high-temperature", "(~280K)"], "fontSize": 21, "lineHeight": 27, "align": "center", "baseline": "alphabetic", "color": "#c2a5cf"},
     "encoding": {"x": {"datum": 1.966, "type": "quantitative", "axis": null}, "y": {"datum": -1.514, "type": "quantitative", "axis": null}}},
    {"mark": {"type": "rule", "color": "#c2a5cf", "strokeWidth": 1.2},
     "encoding": {"x": {"datum": 1.753, "type": "quantitative", "axis": null}, "x2": {"datum": 1.695}, "y": {"datum": -1.2, "type": "quantitative", "axis": null}, "y2": {"datum": -0.38}}},
    {"mark": {"type": "point", "shape": "M0,0L0.5,1.7L-0.5,1.7Z", "filled": true, "color": "#c2a5cf", "opacity": 1, "size": 80, "angle": 352.8, "strokeWidth": 0},
     "encoding": {"x": {"datum": 1.690, "type": "quantitative", "axis": null}, "y": {"datum": -0.3, "type": "quantitative", "axis": null}}},
    {"mark": {"type": "text", "text": ["low-temperature", "(HGW)"], "fontSize": 21, "lineHeight": 26, "align": "center", "baseline": "alphabetic", "color": "#1b7837"},
     "encoding": {"x": {"datum": 3.056, "type": "quantitative", "axis": null}, "y": {"datum": -1.2, "type": "quantitative", "axis": null}}},
    {"mark": {"type": "rule", "color": "#1b7837", "strokeWidth": 1.2},
     "encoding": {"x": {"datum": 3.048, "type": "quantitative", "axis": null}, "x2": {"datum": 2.945}, "y": {"datum": -0.914, "type": "quantitative", "axis": null}, "y2": {"datum": 0.43}}},
    {"mark": {"type": "point", "shape": "M0,0L0.5,1.7L-0.5,1.7Z", "filled": true, "color": "#1b7837", "opacity": 1, "size": 80, "angle": 352, "strokeWidth": 0},
     "encoding": {"x": {"datum": 2.938, "type": "quantitative", "axis": null}, "y": {"datum": 0.514, "type": "quantitative", "axis": null}}}
   ],
   "resolve": {"axis": {"x": "independent", "y": "independent"}}
  },
  {
   "width": 317, "height": 488,
   "title": {"text": ["Comparison of diffraction", "patterns and weighted sums"]},
   "data": {"values": [{}]},
   "layer": [
    {"mark": {"type": "point", "opacity": 0},
     "encoding": {
      "x": {"datum": 2, "type": "quantitative", "scale": {"domain": [1.2, 3.7], "nice": false, "zero": false}, "axis": {"orient": "top", "labels": false, "title": null, "values": [1.5, 2, 2.5, 3, 3.5]}},
      "y": {"datum": 0, "type": "quantitative", "scale": {"domain": [-0.7, 1.05], "nice": false, "zero": false}, "axis": {"orient": "right", "labels": false, "title": null, "values": [-0.5, 0, 0.5, 1]}}
     }},
    {"data": {"name": "panelBdashed"},
     "mark": {"type": "line", "strokeWidth": 1.2, "strokeDash": [4, 2.5], "opacity": 0.6, "clip": true},
     "encoding": {
      "x": {"field": "q", "type": "quantitative", "scale": {"domain": [1.2, 3.7], "nice": false, "zero": false}, "axis": {"orient": "bottom", "values": [1.5, 2, 2.5, 3, 3.5], "labelExpr": "format(datum.value, '~g')", "labelPadding": 26, "title": "Momentum transfer (Å⁻¹)", "titleY": 66.5, "titleBaseline": "alphabetic"}},
      "y": {"field": "I", "type": "quantitative", "scale": {"domain": [-0.7, 1.05], "nice": false, "zero": false}, "axis": {"orient": "left", "values": [-0.5, 0, 0.5, 1], "labelExpr": "datum.value < 0 ? '-' + format(-datum.value, '.1f') : format(datum.value, '.1f')", "labelPadding": 15, "title": "Relative diffraction intensity", "titleX": -51, "titleY": 244, "titleBaseline": "alphabetic", "titleAlign": "center", "titleAngle": 270}},
      "color": {"field": "rate", "type": "nominal", "scale": {"domain": ["1.6e7", "2.4e7", "3.5e7", "6.8e7", "2.2e8"], "range": ["#2166ac", "#67a9cf", "#d1e5f0", "#ef8a62", "#b2182b"]}, "legend": null},
      "order": {"field": "q", "type": "quantitative"}
     }},
    {"data": {"name": "panelBsolid"},
     "mark": {"type": "line", "strokeWidth": 2.2, "clip": true},
     "encoding": {
      "x": {"field": "q", "type": "quantitative", "axis": null},
      "y": {"field": "I", "type": "quantitative", "axis": null},
      "color": {"field": "rate", "type": "nominal", "legend": null},
      "order": {"field": "q", "type": "quantitative"}
     }},
    {"mark": {"type": "text", "text": "b", "fontWeight": "bold", "fontSize": 20, "align": "left", "baseline": "alphabetic", "color": "#000"},
     "encoding": {"x": {"datum": 1.39, "type": "quantitative", "axis": null}, "y": {"datum": 0.925, "type": "quantitative", "axis": null}}},
    {"mark": {"type": "text", "text": "2.2·10⁸ K/s", "fontSize": 21, "align": "center", "baseline": "alphabetic", "color": "#b2182b"},
     "encoding": {"x": {"datum": 2.985, "type": "quantitative", "axis": null}, "y": {"datum": -0.307, "type": "quantitative", "axis": null}}},
    {"mark": {"type": "text", "text": "6.8·10⁷ K/s", "fontSize": 21, "align": "center", "baseline": "alphabetic", "color": "#ef8a62"},
     "encoding": {"x": {"datum": 2.867, "type": "quantitative", "axis": null}, "y": {"datum": -0.393, "type": "quantitative", "axis": null}}},
    {"mark": {"type": "text", "text": "3.5·10⁷ K/s", "fontSize": 21, "align": "center", "baseline": "alphabetic", "color": "#d1e5f0"},
     "encoding": {"x": {"datum": 2.740, "type": "quantitative", "axis": null}, "y": {"datum": -0.479, "type": "quantitative", "axis": null}}},
    {"mark": {"type": "text", "text": "2.4·10⁷ K/s", "fontSize": 21, "align": "center", "baseline": "alphabetic", "color": "#67a9cf"},
     "encoding": {"x": {"datum": 2.614, "type": "quantitative", "axis": null}, "y": {"datum": -0.564, "type": "quantitative", "axis": null}}},
    {"mark": {"type": "text", "text": "1.6·10⁷ K/s", "fontSize": 21, "align": "center", "baseline": "alphabetic", "color": "#2166ac"},
     "encoding": {"x": {"datum": 2.495, "type": "quantitative", "axis": null}, "y": {"datum": -0.654, "type": "quantitative", "axis": null}}}
   ],
   "resolve": {"axis": {"x": "independent", "y": "independent"}}
  },
  {
   "bounds": "flush",
   "spacing": 6,
   "vconcat": [
    {
     "width": 308, "height": 204,
     "title": {"text": ["Component weight as a", "function of heating rate"]},
     "data": {"values": [{}]},
     "layer": [
      {"mark": {"type": "point", "opacity": 0},
       "encoding": {
        "x": {"datum": 1, "type": "quantitative", "scale": {"domain": [0, 3.02], "nice": false, "zero": false}, "axis": {"orient": "top", "labels": false, "title": null, "values": [0, 1, 2, 3]}},
        "y": {"datum": 0.5, "type": "quantitative", "scale": {"domain": [-0.055, 1.055], "nice": false, "zero": false}, "axis": {"orient": "right", "labels": false, "title": null, "values": [0, 0.5, 1]}}
       }},
      {"mark": {"type": "rule", "color": "#999", "strokeWidth": 2},
       "encoding": {"y": {"datum": 0, "type": "quantitative", "axis": null}}},
      {"data": {"name": "fits"},
       "mark": {"type": "line", "strokeWidth": 1.3, "interpolate": "monotone", "clip": true},
       "encoding": {
        "x": {"field": "r", "type": "quantitative", "scale": {"domain": [0, 3.02], "nice": false, "zero": false}, "axis": {"orient": "bottom", "labels": false, "title": null, "values": [0, 1, 2, 3]}},
        "y": {"field": "w", "type": "quantitative", "scale": {"domain": [-0.055, 1.055], "nice": false, "zero": false}, "axis": {"orient": "left", "values": [0, 0.5, 1], "format": ".1f", "labelPadding": 13, "title": null}},
        "color": {"field": "comp", "type": "nominal", "scale": {"domain": ["high", "low", "crystalline"], "range": ["#c2a5cf", "#1b7837", "#000000"]}, "legend": null},
        "order": {"field": "r", "type": "quantitative"}
       }},
      {"data": {"name": "weights"},
       "transform": [{"filter": "datum.comp != 'crystalline'"}],
       "mark": {"type": "errorbar", "ticks": {"size": 9, "thickness": 2.2}, "thickness": 2.2},
       "encoding": {
        "x": {"field": "r", "type": "quantitative", "axis": null},
        "y": {"field": "lo", "type": "quantitative", "axis": null},
        "y2": {"field": "hi"},
        "color": {"field": "comp", "type": "nominal", "legend": null}
       }},
      {"data": {"name": "weights"},
       "transform": [{"filter": "datum.comp == 'crystalline'"}],
       "mark": {"type": "point", "filled": true, "size": 24, "opacity": 1, "color": "#000"},
       "encoding": {
        "x": {"field": "r", "type": "quantitative", "axis": null},
        "y": {"field": "w", "type": "quantitative", "axis": null}
       }},
      {"mark": {"type": "text", "text": "c", "fontWeight": "bold", "fontSize": 20, "align": "left", "baseline": "alphabetic", "color": "#000"},
       "encoding": {"x": {"datum": 0.206, "type": "quantitative", "axis": null}, "y": {"datum": 0.87, "type": "quantitative", "axis": null}}},
      {"mark": {"type": "text", "text": ["high-temperature", "(~280K)"], "fontSize": 21, "lineHeight": 26, "align": "center", "baseline": "alphabetic", "color": "#c2a5cf", "clip": true},
       "encoding": {"x": {"datum": 2.245, "type": "quantitative", "axis": null}, "y": {"datum": 0.765, "type": "quantitative", "axis": null}}},
      {"mark": {"type": "text", "text": ["low-temperature", "(HGW)"], "fontSize": 21, "lineHeight": 26, "align": "center", "baseline": "alphabetic", "color": "#1b7837"},
       "encoding": {"x": {"datum": 1.95, "type": "quantitative", "axis": null}, "y": {"datum": 0.335, "type": "quantitative", "axis": null}}}
     ],
     "resolve": {"axis": {"x": "independent", "y": "independent"}}
    },
    {
     "width": 308, "height": 278,
     "data": {"values": [{}]},
     "layer": [
      {"mark": {"type": "point", "opacity": 0},
       "encoding": {
        "x": {"datum": 1, "type": "quantitative", "scale": {"domain": [0, 3.02], "nice": false, "zero": false}, "axis": {"orient": "top", "labels": false, "title": null, "values": [0, 1, 2, 3]}},
        "y": {"datum": 0.05, "type": "quantitative", "scale": {"domain": [-0.0105, 0.151], "nice": false, "zero": false}, "axis": {"orient": "right", "labels": false, "title": null, "values": [0, 0.1]}}
       }},
      {"mark": {"type": "rule", "color": "#999", "strokeWidth": 2},
       "encoding": {"y": {"datum": 0, "type": "quantitative", "axis": null}}},
      {"data": {"name": "fits"},
       "transform": [{"filter": "datum.comp == 'crystalline'"}],
       "mark": {"type": "line", "strokeWidth": 1.3, "interpolate": "monotone", "clip": true, "color": "#000"},
       "encoding": {
        "x": {"field": "r", "type": "quantitative", "scale": {"domain": [0, 3.02], "nice": false, "zero": false}, "axis": {"orient": "bottom", "values": [0, 1, 2, 3], "format": "d", "labelPadding": 18, "title": "Heating rate (10⁸ K/s)", "titleY": 61, "titleBaseline": "alphabetic"}},
        "y": {"field": "w", "type": "quantitative", "scale": {"domain": [-0.0105, 0.151], "nice": false, "zero": false}, "axis": {"orient": "left", "values": [0, 0.1], "format": ".1f", "labelPadding": 13, "title": "Component weight", "titleX": -53, "titleY": 33.5, "titleBaseline": "alphabetic", "titleAlign": "center", "titleAngle": 270}},
        "order": {"field": "r", "type": "quantitative"}
       }},
      {"data": {"name": "weights"},
       "transform": [{"filter": "datum.comp == 'crystalline'"}],
       "mark": {"type": "errorbar", "ticks": {"size": 9, "thickness": 1.6}, "thickness": 1.6, "color": "#000"},
       "encoding": {
        "x": {"field": "r", "type": "quantitative", "axis": null},
        "y": {"field": "lo", "type": "quantitative", "axis": null},
        "y2": {"field": "hi"}
       }},
      {"data": {"name": "weights"},
       "transform": [{"filter": "datum.comp == 'crystalline'"}],
       "mark": {"type": "point", "filled": true, "size": 24, "opacity": 1, "color": "#000"},
       "encoding": {
        "x": {"field": "r", "type": "quantitative", "axis": null},
        "y": {"field": "w", "type": "quantitative", "axis": null}
       }},
      {"mark": {"type": "text", "text": "d", "fontWeight": "bold", "fontSize": 20, "align": "left", "baseline": "alphabetic", "color": "#000"},
       "encoding": {"x": {"datum": 0.206, "type": "quantitative", "axis": null}, "y": {"datum": 0.129, "type": "quantitative", "axis": null}}},
      {"mark": {"type": "text", "text": ["crystalline component", "(stacking disordered ice)"], "fontSize": 21, "lineHeight": 26, "align": "center", "baseline": "alphabetic", "color": "#000"},
       "encoding": {"x": {"datum": 1.735, "type": "quantitative", "axis": null}, "y": {"datum": 0.0872, "type": "quantitative", "axis": null}}},
      {"mark": {"type": "rule", "color": "#000", "strokeWidth": 1.2},
       "encoding": {"x": {"datum": 0.843, "type": "quantitative", "axis": null}, "x2": {"datum": 0.44}, "y": {"datum": 0.0663, "type": "quantitative", "axis": null}, "y2": {"datum": 0.0437}}},
      {"mark": {"type": "point", "shape": "M0,0L0.5,1.7L-0.5,1.7Z", "filled": true, "color": "#000", "opacity": 1, "size": 150, "angle": 226.3, "strokeWidth": 0},
       "encoding": {"x": {"datum": 0.412, "type": "quantitative", "axis": null}, "y": {"datum": 0.0419, "type": "quantitative", "axis": null}}},
      {"mark": {"type": "rule", "color": "#000", "strokeWidth": 1.2},
       "encoding": {"x": {"datum": 0.971, "type": "quantitative", "axis": null}, "x2": {"datum": 0.64}, "y": {"datum": 0.1012, "type": "quantitative", "axis": null}, "y2": {"datum": 0.1535}}},
      {"mark": {"type": "point", "shape": "M0,0L0.5,1.7L-0.5,1.7Z", "filled": true, "color": "#000", "opacity": 1, "size": 150, "angle": 339.8, "strokeWidth": 0},
       "encoding": {"x": {"datum": 0.627, "type": "quantitative", "axis": null}, "y": {"datum": 0.1564, "type": "quantitative", "axis": null}}}
     ],
     "resolve": {"axis": {"x": "independent", "y": "independent"}}
    }
   ]
  }
 ]
}
